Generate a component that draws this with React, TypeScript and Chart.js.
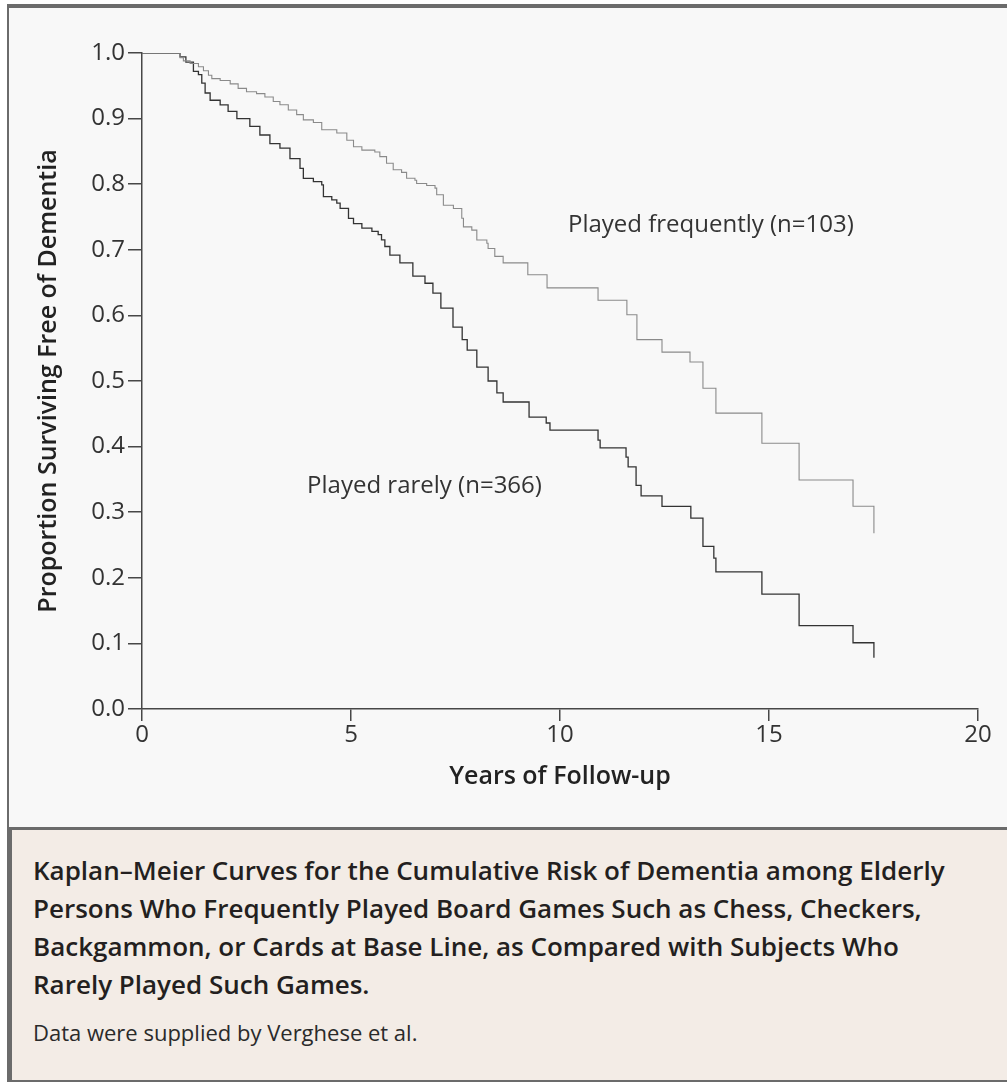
import React, { useEffect, useRef } from "react";
import { Chart, registerables } from "chart.js";

Chart.register(...registerables);

// Played frequently (n=103): event times (years) and survival after each step
const frequentYears = [
  0, 0.91, 0.99, 1.15, 1.35, 1.47, 1.59, 1.67, 1.87, 2.11, 2.3, 2.5, 2.74, 2.94, 3.14, 3.3, 3.5, 3.7, 3.86,
  4.1, 4.3, 4.66, 4.9, 5.06, 5.26, 5.57, 5.69, 5.85, 6.01, 6.21, 6.33, 6.53, 6.57, 6.81, 7.01, 7.05, 7.21,
  7.45, 7.65, 7.69, 7.89, 8.01, 8.25, 8.28, 8.44, 8.64, 9.23, 9.69, 10.91, 11.6, 11.84, 12.44, 13.11, 13.42,
  13.73, 14.83, 15.72, 17.01, 17.51,
];
const frequentSurvival = [
  1.0, 0.993, 0.988, 0.984, 0.979, 0.973, 0.966, 0.961, 0.958, 0.953, 0.946, 0.941, 0.938, 0.933, 0.926,
  0.921, 0.913, 0.906, 0.898, 0.894, 0.883, 0.878, 0.867, 0.857, 0.852, 0.849, 0.842, 0.832, 0.822, 0.818,
  0.809, 0.806, 0.801, 0.798, 0.794, 0.784, 0.768, 0.763, 0.748, 0.735, 0.73, 0.715, 0.71, 0.702, 0.69,
  0.68, 0.662, 0.642, 0.623, 0.601, 0.563, 0.544, 0.529, 0.489, 0.451, 0.405, 0.349, 0.309, 0.268,
];

// Played rarely (n=366)
const rarelyYears = [
  0, 0.91, 1.05, 1.23, 1.35, 1.43, 1.51, 1.63, 1.87, 2.06, 2.27, 2.58, 2.82, 3.06, 3.3, 3.54, 3.78, 3.86,
  4.1, 4.3, 4.34, 4.54, 4.66, 4.74, 4.94, 5.06, 5.26, 5.5, 5.65, 5.73, 5.81, 5.93, 6.17, 6.48, 6.77, 6.96,
  7.15, 7.44, 7.66, 7.78, 8.01, 8.28, 8.49, 8.64, 9.26, 9.67, 9.76, 10.91, 10.96, 11.58, 11.63, 11.82, 11.94,
  12.44, 13.13, 13.42, 13.68, 13.73, 14.83, 15.72, 17.01, 17.51,
];
const rarelySurvival = [
  1.0, 0.994, 0.986, 0.972, 0.967, 0.954, 0.939, 0.928, 0.921, 0.911, 0.9, 0.888, 0.875, 0.862, 0.855,
  0.839, 0.824, 0.809, 0.804, 0.799, 0.781, 0.776, 0.771, 0.763, 0.748, 0.74, 0.733, 0.728, 0.723, 0.715,
  0.705, 0.692, 0.68, 0.66, 0.649, 0.634, 0.611, 0.582, 0.563, 0.547, 0.521, 0.5, 0.482, 0.468, 0.445,
  0.436, 0.425, 0.41, 0.398, 0.384, 0.369, 0.341, 0.325, 0.309, 0.291, 0.248, 0.23, 0.209, 0.175, 0.127,
  0.101, 0.078,
];

const xTickValues = [0, 5, 10, 15, 20];
const yTickValues = [0, 0.1, 0.2, 0.3, 0.4, 0.5, 0.6, 0.7, 0.8, 0.9, 1.0];

const curveLabelTexts = ["Played frequently (n=103)", "Played rarely (n=366)"];
const curveLabelYears = [10.19, 3.95];
const curveLabelSurvival = [0.737, 0.339];

const xTitle = "Years of Follow-up";
const yTitle = "Proportion Surviving Free of Dementia";

const captionLines = [
  "Kaplan–Meier Curves for the Cumulative Risk of Dementia among Elderly",
  "Persons Who Frequently Played Board Games Such as Chess, Checkers,",
  "Backgammon, or Cards at Base Line, as Compared with Subjects Who",
  "Rarely Played Such Games.",
];
const captionNote = "Data were supplied by Verghese et al.";

const FONT = "'Open Sans', 'Noto Sans', 'DejaVu Sans', sans-serif";
const AXIS = "#474747";

const curveLabelPlugin = {
  id: "curveLabels",
  afterDatasetsDraw(chart: any) {
    const { ctx, scales } = chart;
    ctx.save();
    ctx.font = `24px ${FONT}`;
    ctx.fillStyle = "#333333";
    ctx.textAlign = "left";
    ctx.textBaseline = "middle";
    curveLabelTexts.forEach((t, i) => {
      ctx.fillText(t, scales.x.getPixelForValue(curveLabelYears[i]), scales.y.getPixelForValue(curveLabelSurvival[i]));
    });
    ctx.restore();
  },
};

function KMChart() {
  const ref = useRef<HTMLCanvasElement | null>(null);
  useEffect(() => {
    if (!ref.current) return;
    const chart = new Chart(ref.current, {
      type: "line",
      data: {
        datasets: [
          {
            label: "Played frequently (n=103)",
            data: frequentYears.map((x, i) => ({ x, y: frequentSurvival[i] })),
            borderColor: "#8a8a8a",
            borderWidth: 1.1,
            stepped: "before",
            pointRadius: 0,
            fill: false,
          },
          {
            label: "Played rarely (n=366)",
            data: rarelyYears.map((x, i) => ({ x, y: rarelySurvival[i] })),
            borderColor: "#333333",
            borderWidth: 1.3,
            stepped: "before",
            pointRadius: 0,
            fill: false,
          },
        ],
      },
      options: {
        animation: false,
        responsive: false,
        layout: { padding: { left: 0, right: 29, top: 45, bottom: 0 } },
        plugins: { legend: { display: false }, tooltip: { enabled: false } },
        scales: {
          x: {
            type: "linear",
            min: 0,
            max: 20,
            afterFit: (s: any) => {
              s.height = 118;
            },
            afterBuildTicks: (s: any) => {
              s.ticks = xTickValues.map((v) => ({ value: v }));
            },
            ticks: {
              font: { family: FONT, size: 24 },
              color: "#333333",
              padding: 0,
              maxRotation: 0,
              callback: (v: any) => String(v),
            },
            grid: { drawOnChartArea: false, drawTicks: true, tickLength: 12, color: AXIS, lineWidth: 1.5 },
            border: { display: true, color: AXIS, width: 1.5 },
            title: {
              display: true,
              text: xTitle,
              font: { family: FONT, size: 25, weight: "600" },
              color: "#222222",
              padding: { top: 0, bottom: 35 },
            },
          },
          y: {
            type: "linear",
            min: 0,
            max: 1,
            afterFit: (s: any) => {
              s.width = 133;
            },
            afterBuildTicks: (s: any) => {
              s.ticks = yTickValues.map((v) => ({ value: v }));
            },
            ticks: {
              font: { family: FONT, size: 24 },
              color: "#333333",
              padding: 3,
              callback: (v: any) => Number(v).toFixed(1),
            },
            grid: { drawOnChartArea: false, drawTicks: true, tickLength: 14, color: AXIS, lineWidth: 1.5 },
            border: { display: true, color: AXIS, width: 1.5 },
            title: {
              display: true,
              text: yTitle,
              font: { family: FONT, size: 25, weight: "600" },
              color: "#222222",
              padding: { top: 25, bottom: 0 },
            },
          },
        },
      },
      plugins: [curveLabelPlugin],
    } as any);
    return () => chart.destroy();
  }, []);
  return <canvas ref={ref} width={998} height={819} style={{ display: "block" }} />;
}

export default function App() {
  return (
    <div style={{ position: "absolute", left: 0, top: 0, width: 1007, height: 1082, overflow: "hidden", fontFamily: FONT }}>
      {/* top border */}
      <div style={{ position: "absolute", left: 7, top: 4, width: 1000, height: 4, background: "#6b6b6b" }} />
      {/* left border chart part */}
      <div style={{ position: "absolute", left: 7, top: 4, width: 2, height: 826, background: "#6b6b6b" }} />
      {/* chart panel */}
      <div style={{ position: "absolute", left: 9, top: 8, width: 998, height: 819, background: "#f8f8f8" }}>
        <KMChart />
      </div>
      {/* separator */}
      <div style={{ position: "absolute", left: 7, top: 827, width: 1000, height: 3, background: "#6b6b6b" }} />
      {/* caption */}
      <div
        style={{
          position: "absolute",
          left: 7,
          top: 830,
          width: 1000,
          height: 250,
          background: "#f3ece6",
          borderLeft: "5px solid #6b6b6b",
          borderBottom: "2px solid #6b6b6b",
          boxSizing: "content-box",
        }}
      >
        <div style={{ position: "absolute", left: 21, top: 21, whiteSpace: "nowrap" }}>
          {captionLines.map((l, i) => (
            <div key={i} style={{ fontSize: 26, fontWeight: 600, lineHeight: "38px", color: "#231f20" }}>
              {l}
            </div>
          ))}
          <div style={{ fontSize: 22, fontWeight: 400, lineHeight: "38px", color: "#2a2a2a", marginTop: 10 }}>
            {captionNote}
          </div>
        </div>
      </div>
    </div>
  );
}
